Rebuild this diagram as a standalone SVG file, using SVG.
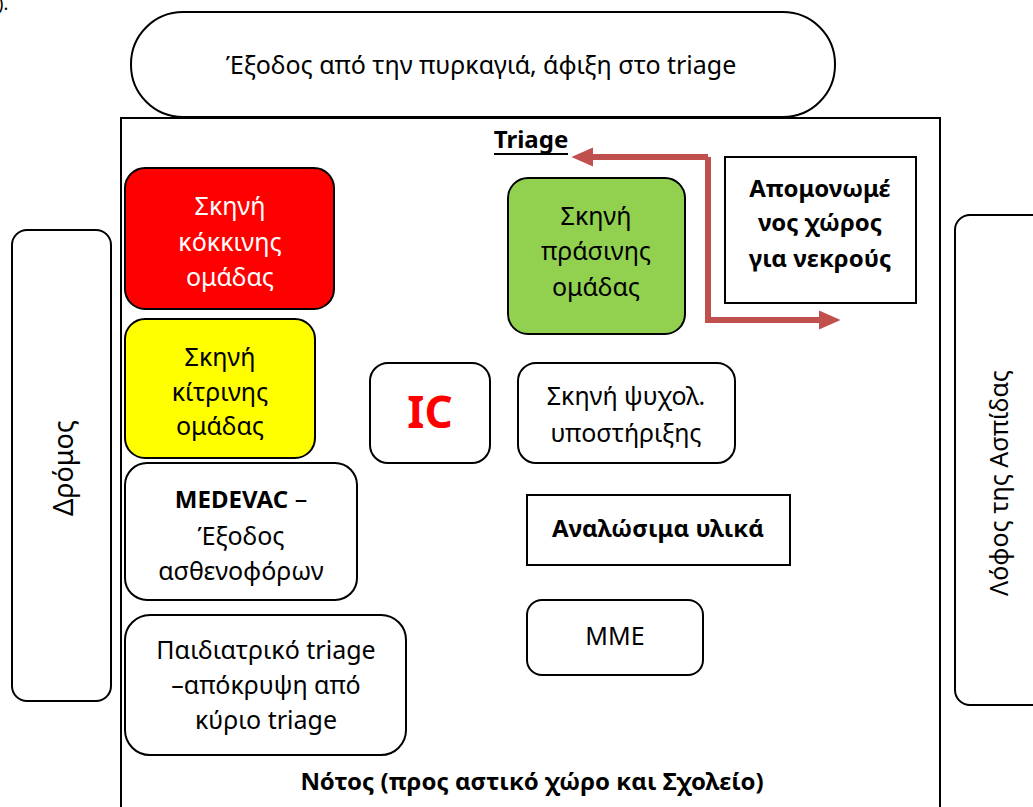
<svg xmlns="http://www.w3.org/2000/svg" width="1033" height="807" viewBox="0 0 1033 807">
<defs>
<style>
text{font-family:"Noto Sans","Liberation Sans",sans-serif;font-size:25px;fill:#000;text-anchor:middle}
.b{font-weight:bold;font-size:24px}
.box{fill:#fff;stroke:#000;stroke-width:2}
.conn{fill:none;stroke:#c0504d;stroke-width:6}
</style>
<marker id="ah" markerWidth="4" markerHeight="4" refX="0.5" refY="2" orient="auto" markerUnits="strokeWidth" viewBox="0 0 4 4">
<path d="M0,0.4 L3.6,2 L0,3.6 z" fill="#c0504d"/>
</marker>
</defs>
<rect width="1033" height="807" fill="#fff"/>
<text x="-2" y="10" style="text-anchor:start;font-size:18px">).</text>

<g id="exit">
<rect class="box" x="131" y="12" width="704" height="105" rx="52"/>
<text x="481" y="74">Έξοδος από την πυρκαγιά, άφιξη στο triage</text>
</g>

<g id="area">
<rect x="121" y="118" width="819" height="700" fill="#fff" stroke="#000" stroke-width="2"/>
<text class="b" x="531" y="148">Triage</text>
<line x1="494" y1="154" x2="568" y2="154" stroke="#000" stroke-width="2"/>
<text class="b" x="532" y="790">Νότος (προς αστικό χώρο και Σχολείο)</text>
</g>

<g id="road">
<rect class="box" x="12" y="230" width="99" height="471" rx="15"/>
<text x="0" y="0" transform="translate(73,468) rotate(-90)" style="font-size:27px">Δρόμος</text>
</g>

<g id="hill">
<rect class="box" x="955" y="215" width="100" height="490" rx="15"/>
<text x="0" y="0" transform="translate(1008,483) rotate(-90)">Λόφος της Ασπίδας</text>
</g>

<g id="red">
<rect x="125" y="168" width="209" height="141" rx="20" fill="#ff0000" stroke="#000" stroke-width="2"/>
<text x="230" y="215" style="fill:#fff">Σκηνή</text>
<text x="230" y="251" style="fill:#fff">κόκκινης</text>
<text x="230" y="286" style="fill:#fff">ομάδας</text>
</g>

<g id="yellow">
<rect x="125" y="319" width="190" height="139" rx="20" fill="#ffff00" stroke="#000" stroke-width="2"/>
<text x="220" y="366">Σκηνή</text>
<text x="220" y="401">κίτρινης</text>
<text x="220" y="435">ομάδας</text>
</g>

<g id="ic">
<rect class="box" x="370" y="363" width="120" height="100" rx="18"/>
<text class="b" x="430" y="428" style="fill:#ff0000;font-size:44px">IC</text>
</g>

<g id="green">
<rect x="508" y="178" width="177" height="156" rx="20" fill="#92d050" stroke="#000" stroke-width="2"/>
<text x="596" y="225">Σκηνή</text>
<text x="596" y="260">πράσινης</text>
<text x="596" y="296">ομάδας</text>
</g>

<g id="dead">
<rect class="box" x="725" y="157" width="191" height="146"/>
<text class="b" x="820" y="197">Απομονωμέ</text>
<text class="b" x="820" y="231">νος χώρος</text>
<text class="b" x="820" y="267">για νεκρούς</text>
</g>

<g id="psych">
<rect class="box" x="518" y="363" width="217" height="100" rx="18"/>
<text x="626" y="405">Σκηνή ψυχολ.</text>
<text x="626" y="442">υποστήριξης</text>
</g>

<g id="medevac">
<rect class="box" x="125" y="463" width="232" height="137" rx="22"/>
<text x="241" y="508"><tspan class="b">MEDEVAC</tspan> –</text>
<text x="241" y="545">Έξοδος</text>
<text x="241" y="580">ασθενοφόρων</text>
</g>

<g id="consumables">
<rect class="box" x="527" y="495" width="263" height="70"/>
<text class="b" x="658" y="537">Αναλώσιμα υλικά</text>
</g>

<g id="mme">
<rect class="box" x="527" y="600" width="176" height="75" rx="15"/>
<text x="615" y="645">MME</text>
</g>

<g id="pediatric">
<rect class="box" x="125" y="615" width="281" height="140" rx="25"/>
<text x="266" y="659">Παιδιατρικό triage</text>
<text x="266" y="694">–απόκρυψη από</text>
<text x="266" y="729">κύριο triage</text>
</g>

<g id="connectors">
<path class="conn" d="M708,157 L590,157" marker-end="url(#ah)"/>
<path class="conn" d="M708,157 L708,320 L822,320" marker-end="url(#ah)"/>
</g>
</svg>
